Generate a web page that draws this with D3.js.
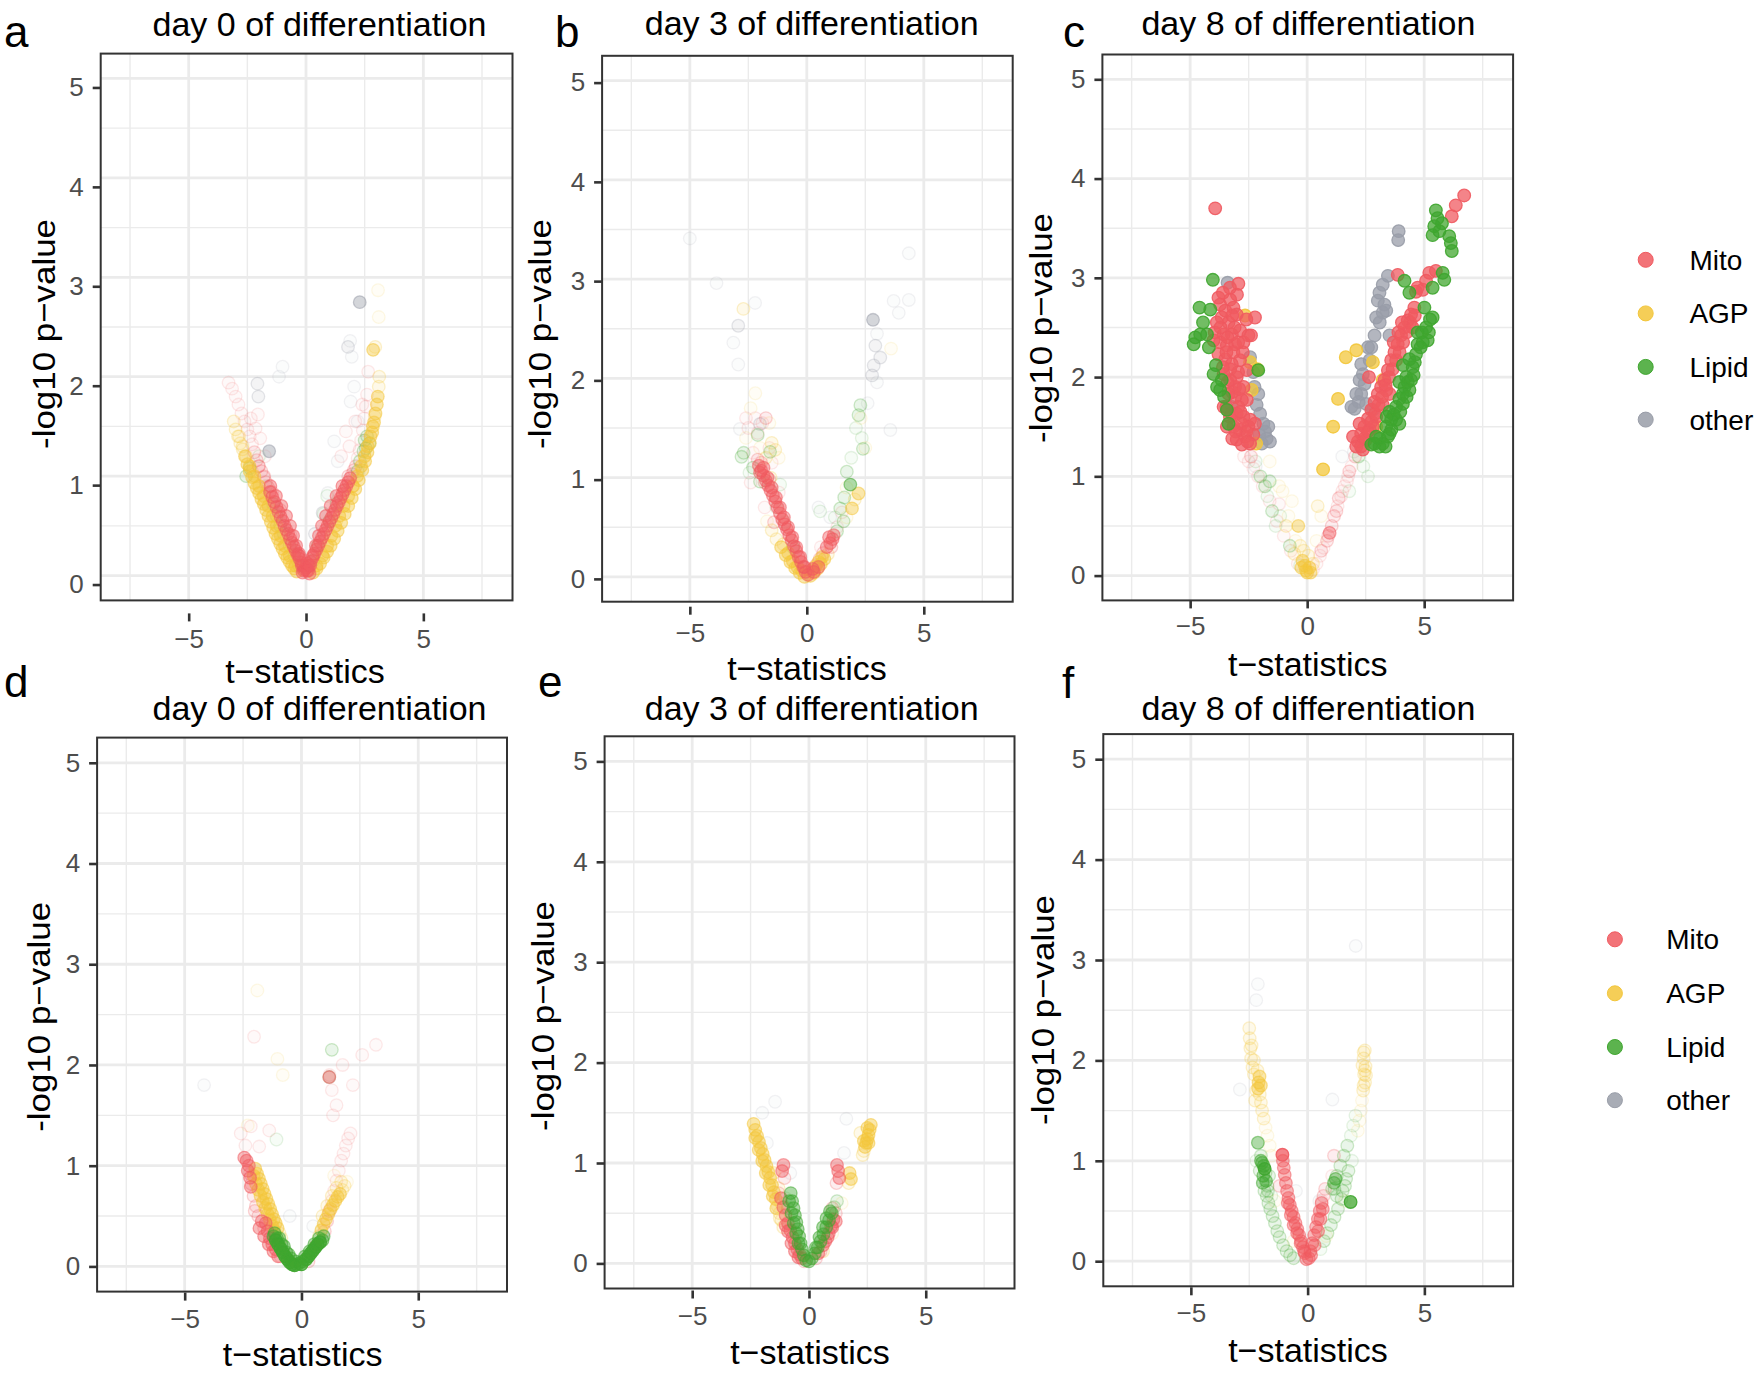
<!DOCTYPE html>
<html><head><meta charset="utf-8">
<script src="https://cdn.jsdelivr.net/npm/d3@7"></script>
<style>body{margin:0;background:#fff} svg{display:block} text{font-family:"Liberation Sans",Arial,Helvetica,sans-serif}</style>
</head><body><svg id="chart" width="1760" height="1375"></svg>
<script>
const categories = ["Mito","AGP","Lipid","other"];
const panelLetters = ["a","b","c","d","e","f"];
const panelTitles = ["day 0 of differentiation","day 3 of differentiation","day 8 of differentiation","day 0 of differentiation","day 3 of differentiation","day 8 of differentiation"];
const xTicks = [-5,0,5];
const yTicks = [0,1,2,3,4,5];
const xMinor = [-7.5,-2.5,2.5,7.5];
const yMinor = [0.5,1.5,2.5,3.5,4.5];
const xDomain = [-8.75,8.8];
const yDomain = [-0.25,5.25];
const xTitle = "t\u2212statistics";
const yTitle = "-log10 p\u2212value";

// points: [t-statistic, -log10 p-value, significance level 0..3]
const a_Mito = [
[-0.05,0.06,2],[-0.12,0.1,2],[-0.2,0.13,2],[-0.28,0.17,2],[-0.36,0.21,2],[-0.44,0.25,2],[-0.52,0.29,2],[-0.6,0.33,2],[-0.68,0.37,2],[-0.76,0.42,2],[-0.84,0.46,2],[-0.92,0.5,2],[-1.0,0.55,2],[-1.08,0.59,2],[-1.17,0.64,2],[-1.26,0.69,2],[-1.35,0.74,2],[-1.44,0.79,2],[-1.53,0.84,2],[-1.62,0.89,1],[-1.71,0.94,1],[-1.8,0.99,1],[-1.9,1.05,1],[-2.0,1.1,1],[-2.1,1.16,1],[-0.3,0.22,2],[-0.65,0.4,1],[-1.1,0.66,1],[-1.45,0.84,1],
[-0.1,0.05,2],[-0.18,0.1,2],[-0.3,0.2,2],[-0.42,0.3,2],[-0.55,0.4,2],[-0.68,0.5,2],[-0.85,0.6,2],[-1.05,0.7,2],[-1.28,0.8,2],[-1.52,0.9,2],[-1.78,1.0,1],[-2.02,1.1,1],
[0.0,0.08,2],[-0.05,0.15,1],[0.05,0.12,2],[-0.15,0.03,2],[0.15,0.02,2],
[-2.2,1.24,1],[-2.3,1.32,0],[-2.4,1.4,0],[-2.5,1.47,0],[-2.62,1.55,0],[-2.75,1.63,0],[-2.88,1.72,0],[-3.0,1.8,0],[-3.15,1.88,0],[-3.3,1.94,0],[-2.35,1.58,0],[-2.15,1.48,0],[-1.95,1.38,0],[-2.05,1.62,0],[-1.75,1.2,0],
[0.05,0.05,2],[0.12,0.1,2],[0.2,0.14,2],[0.28,0.18,2],[0.36,0.22,2],[0.44,0.26,2],[0.52,0.3,2],[0.6,0.34,2],[0.68,0.38,2],[0.76,0.42,2],[0.84,0.46,2],[0.92,0.5,2],[1.0,0.54,2],[1.08,0.58,2],[1.16,0.62,2],[1.24,0.66,2],[1.32,0.7,2],[1.4,0.74,2],[1.48,0.78,2],[1.56,0.82,2],[1.64,0.86,2],[1.72,0.9,2],[1.8,0.94,2],[1.88,0.98,2],[1.96,1.02,1],[2.04,1.06,1],[2.12,1.1,1],
[0.1,0.05,2],[0.18,0.1,2],[0.3,0.2,2],[0.42,0.3,2],[0.55,0.4,2],[0.68,0.5,2],[0.85,0.6,2],[1.05,0.7,2],[1.3,0.8,2],[1.55,0.9,2],[1.8,1.0,1],
[2.2,1.18,0],[2.28,1.26,0],[2.35,1.36,0],[2.42,1.46,0],[2.48,1.58,0],[2.55,1.7,0],[2.6,1.82,0],[2.4,1.72,0],[1.7,1.45,0],[1.85,1.3,0],[2.1,1.55,0],[2.65,2.05,0],[1.5,1.2,0]];
const a_AGP = [
[-0.4,0.04,2],[-0.5,0.07,2],[-0.6,0.1,2],[-0.7,0.14,2],[-0.8,0.18,2],[-0.9,0.22,2],[-1.0,0.27,2],[-1.1,0.32,2],[-1.2,0.37,2],[-1.3,0.42,2],[-1.4,0.48,2],[-1.5,0.54,2],[-1.6,0.6,2],[-1.7,0.66,2],[-1.8,0.72,2],[-1.9,0.77,2],[-2.0,0.83,2],[-2.1,0.88,2],[-2.2,0.93,2],[-2.3,0.99,2],[-2.4,1.05,2],[-2.5,1.12,2],[-2.6,1.2,2],[-2.7,1.27,1],[-2.8,1.33,1],[-2.9,1.4,1],[-3.0,1.47,1],[-3.08,1.55,1],[-1.25,0.45,1],[-1.75,0.74,1],[-2.3,1.05,1],
[-0.45,0.1,2],[-0.7,0.2,2],[-0.9,0.3,2],[-1.08,0.4,2],[-1.25,0.5,2],[-1.42,0.6,2],[-1.6,0.7,2],[-1.8,0.8,2],[-2.0,0.9,2],[-2.2,1.0,2],[-2.4,1.1,2],[-2.55,1.2,1],[-2.7,1.3,1],[-2.85,1.4,1],
[0.3,0.03,2],[0.45,0.07,2],[0.6,0.12,2],[0.75,0.18,2],[0.9,0.24,2],[1.05,0.3,2],[1.2,0.37,2],[1.35,0.45,2],[1.5,0.53,2],[1.65,0.62,2],[1.8,0.7,2],[1.95,0.78,2],[2.1,0.87,2],[2.25,0.96,2],[2.4,1.06,2],[2.52,1.15,2],[2.62,1.24,2],[2.72,1.33,2],[2.82,1.44,2],[2.9,1.54,2],[2.96,1.63,2],[3.02,1.72,2],[3.06,1.8,2],[3.1,1.9,1],[3.12,2.0,1],[2.86,2.27,2],[2.95,2.3,1],[3.07,2.87,0],[3.1,2.6,0],[1.3,0.55,1],[2.0,0.9,1],
[0.45,0.1,2],[0.7,0.2,2],[0.9,0.3,2],[1.08,0.4,2],[1.25,0.5,2],[1.42,0.6,2],[1.6,0.7,2],[1.8,0.8,2],[2.0,0.9,2],[2.18,1.0,2],[2.35,1.1,2],[2.5,1.2,2],[2.62,1.3,2],[2.75,1.4,2],[2.85,1.5,2],[2.93,1.6,1]];
const a_Lipid = [
[-2.55,1.0,1],[-2.4,1.08,1],[-1.4,0.72,1],[-1.25,0.6,1],[-1.1,0.5,1],[-0.95,0.42,1],[-0.7,0.3,1],[-0.5,0.2,1],[-0.3,0.1,1],[2.7,1.33,1],[2.6,1.4,1],[2.5,1.36,1],[2.45,1.25,1],[2.3,1.15,1],[2.55,1.28,1],[2.2,1.05,1],[0.9,0.8,0],[0.75,0.62,0],[1.0,0.55,1],[1.3,0.72,1],[1.6,0.85,0],[0.5,0.3,1],[0.3,0.15,1],[-1.7,0.9,0],[-2.0,1.2,0]];
const a_other = [
[2.29,2.75,2],[1.79,2.3,1],[1.95,2.2,0],[1.88,2.36,0],[-2.07,1.93,1],[-2.03,1.8,1],[-1.57,1.25,2],[-1.15,2.0,0],[0.71,0.63,1],[0.38,0.42,1],[0.93,0.83,0],[1.2,1.35,0],[1.9,1.75,0],[2.2,1.55,0],[1.35,1.15,0],[2.05,1.9,0],[-1.0,2.1,0]];

const b_Mito = [
[0.05,0.02,2],[-0.05,0.05,2],[-0.15,0.1,2],[-0.25,0.15,2],[-0.35,0.2,2],[-0.45,0.26,2],[-0.55,0.31,2],[-0.65,0.37,2],[-0.75,0.42,2],[-0.85,0.48,2],[-0.95,0.53,2],[-1.05,0.58,2],[-1.15,0.64,2],[-1.25,0.7,2],[-1.35,0.76,2],[-1.45,0.82,2],[-1.55,0.87,2],[-1.65,0.92,2],[-1.75,0.97,2],[-1.85,1.02,2],[-1.95,1.07,2],[-2.05,1.12,2],[-2.0,1.05,2],[-1.8,0.95,1],[-1.6,0.98,1],
[-0.1,0.1,2],[-0.28,0.2,2],[-0.45,0.3,2],[-0.62,0.4,2],[-0.8,0.5,2],[-0.98,0.6,2],[-1.15,0.7,2],[-1.32,0.8,2],[-1.5,0.9,2],[-1.68,1.0,2],[-1.85,1.1,2],[-2.1,1.18,1],[-1.95,1.15,1],
[-2.4,0.95,0],[-2.3,1.25,0],[-2.1,1.45,0],[-1.9,1.55,0],[-1.6,1.3,0],[-1.8,0.7,0],[-1.4,0.55,1],[-2.6,1.6,0],[-2.2,1.6,0],[-1.75,1.6,1],[-2.5,1.5,0],[-1.5,1.15,0],[-1.2,0.85,0],
[0.25,0.08,2],[0.4,0.12,1],[0.55,0.18,1],[0.7,0.24,1],[0.85,0.3,2],[1.0,0.34,2],[1.1,0.38,2],[1.15,0.42,2],[0.6,0.3,0],[1.3,0.5,0],[1.5,0.65,0],[0.3,0.05,2],[0.5,0.1,2],[0.95,0.4,2],[1.05,0.3,1]];
const b_AGP = [
[-0.1,0.0,2],[-0.3,0.04,2],[-0.5,0.09,2],[-0.7,0.15,2],[-0.9,0.22,2],[-1.1,0.3,2],[-1.3,0.38,1],[-1.5,0.47,1],[-1.7,0.56,0],[0.15,0.01,2],[0.3,0.04,2],[0.45,0.08,2],[0.6,0.13,2],[0.75,0.18,2],[0.9,0.23,1],
[-0.2,0.06,2],[-0.4,0.1,2],[-0.6,0.16,2],[-0.8,0.24,2],[-1.0,0.33,1],[0.2,0.06,2],[0.35,0.1,2],[0.5,0.15,2],[0.65,0.2,2],
[2.21,0.84,2],[1.93,0.69,2],[2.05,0.78,1],[1.7,0.6,0],
[-2.71,2.7,1],[-2.2,1.85,0],[-2.6,1.4,0],[-2.0,1.3,0],[-1.75,1.2,1],[-1.55,1.0,1],[-1.6,1.55,0],[1.7,0.9,0],[2.5,1.3,0],[3.6,2.3,0],[2.3,1.6,0],[-2.4,1.7,0],[-1.5,1.35,1],[-1.35,1.28,1],[-1.2,1.2,0]];
const b_Lipid = [
[-2.79,1.21,1],[-2.7,1.25,1],[-2.0,0.96,1],[-1.57,1.26,1],[-2.1,1.43,1],[-1.14,0.93,0],[-2.3,1.1,1],[-2.45,1.05,0],[2.29,1.73,1],[2.21,1.63,1],[2.4,1.29,1],[2.35,1.4,0],[1.71,1.06,1],[1.86,0.93,2],[1.43,0.69,1],[1.57,0.56,1],[1.29,0.46,1],[0.57,0.66,0],[2.1,1.5,0],[1.9,1.2,0],[1.6,0.8,1],[1.2,0.6,0],[-1.3,0.7,0],[-0.95,0.55,0],[-0.6,0.3,1]];
const b_other = [
[2.83,2.59,2],[2.93,2.33,1],[3.14,2.21,1],[2.86,2.13,1],[2.79,2.03,1],[3.0,1.96,0],[3.71,2.78,0],[4.36,2.79,0],[4.36,3.26,0],[3.93,2.66,0],[3.57,1.48,0],[-3.86,2.96,0],[-5.0,3.41,0],[-2.21,2.76,0],[-2.93,2.53,1],[-3.14,2.36,0],[-2.93,2.14,0],[-2.0,1.54,1],[-2.86,1.49,0],[2.6,1.75,0],[1.0,0.6,0],[0.5,0.7,0],[3.0,2.45,0]];

const c_Mito = [
[-3.93,3.7,3],
[-2.94,2.94,3],[-3.79,2.8,3],[-3.29,2.78,3],[-3.15,2.7,3],[-2.23,2.6,3],[-3.86,2.55,3],[-3.36,2.55,3],[-3.01,2.63,3],[-4.0,2.37,3],[-3.72,2.35,3],[-3.43,2.32,3],[-3.08,2.33,3],[-2.72,2.35,3],[-2.51,2.42,3],[-3.79,2.23,3],[-3.5,2.18,3],[-3.22,2.13,3],[-2.87,2.17,3],[-2.58,2.07,3],[-3.57,2.03,3],[-3.29,1.97,3],[-3.01,2.0,3],[-2.72,1.9,3],[-3.36,1.83,3],[-3.08,1.8,3],[-2.79,1.77,3],[-3.57,1.7,3],[-3.01,1.63,3],[-2.72,1.6,3],[-2.44,1.57,3],[-3.15,1.5,3],[-2.87,1.47,3],[-2.51,1.5,3],[-2.23,1.53,3],[-3.01,1.37,3],[-2.65,1.4,3],[-2.3,1.42,3],[-2.79,1.32,3],[-2.44,1.33,3],
[-3.57,2.43,3],[-3.22,2.43,3],[-2.87,2.47,3],[-3.5,2.67,3],[-3.72,2.73,3],[-3.0,2.83,3],[-3.29,2.08,3],[-3.08,1.9,3],[-2.58,1.77,3],[-3.22,1.63,3],[-2.79,1.53,3],[-2.94,1.7,3],[-3.43,1.5,3],
[-3.65,2.6,3],[-3.4,2.4,3],[-3.1,2.5,3],[-2.75,2.25,3],[-3.6,2.1,3],[-3.45,2.25,3],[-3.15,2.25,3],[-2.95,2.05,3],[-3.4,1.95,3],[-3.2,1.85,3],[-2.9,1.88,3],[-3.45,1.7,3],[-3.3,1.6,3],[-2.85,1.65,3],[-2.6,1.45,3],[-3.05,1.45,3],[-3.2,1.38,3],[-2.55,1.35,3],[-3.95,2.45,3],[-3.7,2.5,3],[-2.4,2.42,3],[-2.6,2.58,3],[-3.3,2.9,3],[-3.6,2.85,3],[-2.95,2.35,3],[-3.2,2.62,3],
[2.17,1.35,3],[2.31,1.43,3],[2.45,1.5,3],[2.6,1.58,3],[2.74,1.67,3],[2.88,1.75,3],[3.02,1.83,3],[3.16,1.9,3],[3.3,1.97,3],[3.45,2.07,3],[3.59,2.17,3],[3.73,2.25,3],[3.87,2.33,3],[4.01,2.42,3],[4.16,2.5,3],[4.3,2.57,3],[4.44,2.63,3],[4.58,2.7,3],[2.52,1.37,3],[2.67,1.47,3],[2.95,1.6,3],[3.23,1.72,3],[3.52,1.83,3],[2.24,1.53,3],[2.38,1.27,3],[1.96,1.4,3],[2.1,1.3,3],[2.64,2.0,3],[2.81,1.5,3],[3.38,1.87,3],
[2.3,1.3,3],[2.45,1.38,3],[2.6,1.45,3],[2.75,1.55,3],[2.9,1.63,3],[3.05,1.72,3],[3.2,1.8,3],[3.35,1.92,3],[3.5,2.0,3],[3.65,2.08,3],[3.8,2.17,3],[3.95,2.25,3],[4.1,2.35,3],[4.25,2.45,3],[4.4,2.55,3],[3.7,2.35,3],[3.9,2.45,3],[4.05,2.55,3],[4.5,2.5,3],[4.6,2.62,3],
[6.71,3.83,3],[6.35,3.73,3],[6.18,3.62,3],
[3.87,3.03,3],[4.72,2.9,3],[4.94,2.88,3],[5.22,3.05,3],[5.5,3.07,3],[5.08,2.97,3],[4.65,2.86,3],
[2.05,1.2,1],[1.9,1.1,0],[1.75,1.0,0],[1.6,0.9,0],[1.45,0.8,0],[1.3,0.7,0],[1.15,0.6,1],[0.96,0.43,2],[0.85,0.35,1],[0.7,0.28,0],[0.55,0.2,0],[0.4,0.12,0],[0.25,0.06,0],[1.05,0.5,1],[1.25,0.65,1],[1.5,0.85,0],[1.7,0.95,0],[0.9,0.4,1],[1.35,0.78,1],[1.8,1.05,1],[0.6,0.25,1],
[-2.7,1.2,0],[-2.5,1.15,0],[-2.3,1.08,0],[-2.1,1.0,0],[-1.9,0.9,0],[-1.3,0.55,0],[-1.0,0.4,0],[-0.7,0.25,0],[-0.4,0.12,0],[-1.6,0.75,0],[-2.4,1.2,1],[-1.2,0.72,0]];
const c_AGP = [
[-2.18,1.33,3],[-2.65,2.62,3],[-2.13,2.08,3],[-2.37,1.87,3],[-2.44,2.15,3],[1.65,2.2,3],[2.1,2.27,3],[1.32,1.78,3],[1.11,1.5,3],[0.68,1.07,3],[3.23,1.97,3],[2.81,2.15,3],[2.95,1.5,3],
[-0.38,0.5,2],[-0.1,0.1,2],[-0.05,0.05,2],[0.0,0.03,2],[-0.2,0.15,2],[0.1,0.08,2],[-0.15,0.25,1],[0.05,0.2,1],[-0.3,0.3,1],[0.25,0.12,1],[-0.5,0.35,0],[-0.8,0.6,0],[-1.2,0.9,0],[-0.65,0.75,0],[0.4,0.35,0],[0.6,0.6,0],[-1.6,1.15,0],[-0.25,0.08,2],[0.15,0.03,2],[-0.9,0.5,1],[-0.55,0.22,1],[0.45,0.7,1],[-1.05,0.85,0]];
const c_Lipid = [
[-4.03,2.98,3],[-4.6,2.7,3],[-4.14,2.68,3],[-4.85,2.33,3],[-4.57,2.43,3],[-4.28,2.43,3],[-4.0,2.03,3],[-3.72,1.87,3],[-3.65,1.97,3],[-3.36,1.53,3],[-2.09,2.07,3],[-3.43,1.67,3],[-4.78,2.4,3],
[-4.45,2.55,3],[-4.2,2.3,3],[-3.9,2.12,3],[-3.85,1.9,3],[-3.55,1.8,3],
[5.5,3.68,3],[5.57,3.6,3],[5.43,3.52,3],[5.65,3.47,3],[5.36,3.43,3],[6.07,3.42,3],[6.14,3.35,3],[6.18,3.27,3],[5.76,3.55,3],
[4.16,2.97,3],[4.37,2.85,3],[5.79,3.05,3],[5.86,2.98,3],[5.36,2.9,3],[5.01,2.7,3],
[2.88,1.33,3],[3.23,1.33,3],[3.45,1.4,3],[3.38,1.5,3],[3.59,1.57,3],[3.52,1.65,3],[3.8,1.7,3],[3.94,1.78,3],[4.09,1.83,3],[4.16,1.9,3],[3.94,1.95,3],[4.23,2.0,3],[4.44,1.97,3],[4.09,2.12,3],[4.51,2.1,3],[4.37,2.18,3],[4.72,2.33,3],[4.94,2.35,3],[5.15,2.37,3],[4.72,2.45,3],[5.36,2.6,3],[5.08,2.5,3],[3.8,1.57,3],[3.52,1.43,3],[2.74,1.32,3],[4.09,1.73,3],[4.37,1.87,3],[3.94,1.53,3],[4.65,2.23,3],[3.09,1.3,3],
[3.1,1.38,3],[3.35,1.3,3],[3.6,1.47,3],[3.7,1.62,3],[3.98,1.65,3],[4.25,1.8,3],[4.3,1.95,3],[4.55,2.02,3],[4.6,2.15,3],[4.85,2.3,3],[4.9,2.45,3],[5.2,2.45,3],[5.25,2.58,3],[3.4,1.6,3],[2.95,1.4,3],
[-2.0,1.0,1],[-1.8,0.9,1],[-1.5,0.65,1],[-1.7,0.8,0],[-1.35,0.5,0],[-0.74,0.3,1],[-0.3,0.1,0],[2.4,1.1,0],[2.6,1.0,0],[1.8,0.85,0],[-2.2,1.15,0],[2.2,1.2,1],[-1.6,0.95,1],[-1.15,0.6,0]];
const c_other = [
[-3.4,2.95,3],[-1.73,1.38,3],[-1.66,1.5,3],[-2.01,1.63,3],[-2.09,1.83,3],[-2.44,2.2,3],[-3.22,1.7,3],[-1.94,1.33,3],[-1.59,1.35,3],[-1.87,1.53,3],[-2.16,1.72,3],
[-1.8,1.45,3],[-2.05,1.42,3],[-2.25,1.9,3],[-2.3,2.05,3],
[3.91,3.47,3],[3.89,3.38,3],[3.45,3.02,3],[3.23,2.93,3],[3.09,2.85,3],[3.02,2.77,3],[3.3,2.73,3],[3.23,2.65,3],[3.38,2.67,3],[2.88,2.42,3],[3.52,2.42,3],[2.74,2.3,3],[2.38,2.03,3],[2.31,2.13,3],[2.67,2.17,3],[2.24,1.97,3],[2.03,1.68,3],[2.31,1.83,3],[2.52,1.73,3],[2.81,1.67,3],[2.1,1.83,3],[1.89,1.7,3],
[2.95,2.6,3],[3.1,2.55,3],[2.6,2.3,3],[2.45,1.93,3],[2.2,1.75,3],
[-2.2,1.1,0],[1.5,1.2,0],[2.0,1.25,0]];

const d_Mito = [
[-2.45,1.08,2],[-2.35,1.05,2],[-2.25,1.0,2],[-2.2,0.92,1],[-2.15,0.82,1],[-2.17,0.79,2],[-2.05,0.7,1],[-1.95,0.6,1],[-1.85,0.5,1],[-1.7,0.45,2],[-1.53,0.43,2],[-1.45,0.35,2],[-1.35,0.28,2],[-1.25,0.22,2],[-1.1,0.17,2],[-1.6,0.38,1],[-0.9,0.1,1],
[-2.3,0.95,2],[-2.2,0.88,2],[-2.0,0.55,1],[-1.8,0.38,2],[-1.6,0.3,2],[-1.4,0.22,2],[-1.2,0.15,2],[-1.0,0.1,2],
[1.0,0.35,1],[1.1,0.45,1],[1.2,0.55,1],[1.3,0.65,0],[1.4,0.75,0],[1.5,0.85,0],[1.6,0.95,0],[1.7,1.05,0],[1.8,1.12,0],[1.9,1.2,0],[2.0,1.27,0],[2.1,1.32,0],[1.2,1.9,0],[1.3,1.75,0],[1.5,1.6,0],[1.35,1.5,0],[3.19,2.2,0],[2.6,2.1,0],[1.76,2.0,0],[2.2,1.8,0],[1.19,1.88,2],[0.6,0.2,1],[0.3,0.05,1],
[-2.6,1.32,0],[-2.17,1.39,0],[-1.81,1.19,0],[-1.38,1.35,0],[-2.03,2.28,0],[-2.4,1.2,0]];
const d_AGP = [
[-1.98,0.97,2],[-1.9,0.92,2],[-1.82,0.87,2],[-1.74,0.82,2],[-1.66,0.77,2],[-1.58,0.72,2],[-1.5,0.67,2],[-1.42,0.62,2],[-1.34,0.57,2],[-1.26,0.52,2],[-1.18,0.47,2],[-1.1,0.43,2],[-1.02,0.38,2],[-0.94,0.33,1],[-0.86,0.28,1],
[-2.05,0.9,2],[-1.95,0.82,2],[-1.85,0.76,2],[-1.75,0.7,2],[-1.65,0.64,2],[-1.55,0.58,2],[-1.45,0.52,2],[-1.35,0.46,2],[-1.25,0.4,2],[-1.15,0.35,2],
[0.75,0.3,1],[0.85,0.36,2],[0.95,0.42,2],[1.05,0.47,2],[1.15,0.52,2],[1.25,0.57,2],[1.35,0.61,2],[1.45,0.65,2],[1.55,0.69,2],[1.65,0.72,2],[1.75,0.76,1],[1.85,0.8,1],[1.95,0.84,0],
[0.9,0.5,1],[1.1,0.6,1],[1.3,0.7,1],[1.5,0.78,1],[1.7,0.84,1],
[-1.89,2.74,0],[-1.03,2.06,0],[-0.8,1.9,0],[-2.3,1.4,0],[1.4,0.9,0]];
const d_Lipid = [
[-1.2,0.3,2],[-1.1,0.26,3],[-1.0,0.22,3],[-0.9,0.18,3],[-0.8,0.14,3],[-0.7,0.1,3],[-0.6,0.07,3],[-0.5,0.04,3],[-0.4,0.02,3],[-0.3,0.01,3],[-0.2,0.02,2],[-0.1,0.03,2],[0.05,0.05,2],[0.2,0.07,3],[0.3,0.1,3],[0.4,0.13,3],[0.5,0.16,3],[0.6,0.19,3],[0.7,0.22,3],[0.8,0.24,3],[0.9,0.26,2],[-0.95,0.28,2],[-0.75,0.2,2],[-0.55,0.12,2],
[-1.15,0.33,2],[-1.05,0.28,2],[-0.85,0.22,2],[-0.65,0.14,2],[-0.45,0.08,2],[-0.25,0.05,2],[0.0,0.02,3],[0.15,0.1,2],[0.35,0.15,2],[0.55,0.22,2],[0.75,0.28,2],[0.95,0.3,2],
[1.3,2.15,1],[1.19,1.88,1],[-1.07,1.26,0]];
const d_other = [[-4.17,1.8,0],[0.5,0.4,0],[-0.5,0.5,0]];

const e_Mito = [
[-1.09,0.98,2],[-1.15,0.92,2],[-1.05,0.85,1],[-1.3,0.7,1],[-1.2,0.65,2],[-1.1,0.56,2],[-1.0,0.48,2],[-0.9,0.4,2],[-0.8,0.33,2],[-0.7,0.26,2],[-0.6,0.2,2],[-0.5,0.14,2],[-0.4,0.09,2],[-0.3,0.05,2],[-0.2,0.02,1],
[-1.0,0.38,2],[-0.9,0.32,2],[-0.75,0.2,2],[-0.6,0.12,2],[-0.45,0.06,2],
[1.2,0.98,2],[1.25,0.92,2],[1.3,0.85,2],[1.18,0.8,1],[0.3,0.05,1],[0.5,0.12,1],[0.7,0.22,2],[0.85,0.3,2],[0.95,0.37,2],[1.05,0.44,2],[1.15,0.5,1],[1.0,0.55,1],
[0.4,0.1,2],[0.6,0.18,2],[0.8,0.26,2],[1.0,0.36,2],[1.15,0.42,2]];
const e_AGP = [
[-2.37,1.39,2],[-2.3,1.33,2],[-2.22,1.27,2],[-2.14,1.21,2],[-2.06,1.15,2],[-1.98,1.09,2],[-1.9,1.03,2],[-1.82,0.97,2],[-1.74,0.91,2],[-1.66,0.85,2],[-1.58,0.78,2],[-1.5,0.71,2],[-1.42,0.64,2],[-1.34,0.57,1],[-1.26,0.5,1],[-1.18,0.43,1],[-1.1,0.36,1],[-1.5,0.9,1],[-1.3,0.75,1],[-1.2,0.6,1],
[-2.3,1.25,2],[-2.15,1.13,2],[-2.0,1.02,2],[-1.85,0.9,2],[-1.7,0.78,2],[-1.55,0.67,2],[-1.4,0.55,2],[-1.25,0.45,1],
[2.65,1.38,2],[2.6,1.33,2],[2.55,1.28,2],[2.5,1.24,2],[2.45,1.2,2],[2.4,1.16,2],[2.35,1.12,1],[2.3,1.08,1],[1.74,0.9,2],[1.8,0.84,2],[1.7,0.8,1],[2.2,1.3,1],
[2.5,1.35,2],[2.55,1.2,2],[2.35,1.22,2],
[1.4,0.6,0],[1.0,0.3,0],[0.6,0.12,1]];
const e_Lipid = [
[-0.78,0.7,2],[-0.72,0.62,2],[-0.66,0.55,2],[-0.6,0.48,2],[-0.54,0.41,2],[-0.48,0.34,2],[-0.42,0.27,2],[-0.36,0.2,2],[-0.3,0.14,2],[-0.22,0.08,2],[-0.12,0.03,2],[0.0,0.02,2],[0.12,0.05,2],[0.25,0.1,2],[0.38,0.16,2],[0.5,0.22,2],[0.62,0.29,2],[0.74,0.36,2],[0.86,0.43,2],[0.98,0.5,2],[1.08,0.56,1],[1.2,0.62,1],[-0.9,0.55,1],[-1.0,0.65,0],
[-0.85,0.62,2],[-0.75,0.5,2],[-0.65,0.4,2],[-0.55,0.3,2],[-0.45,0.2,2],[0.3,0.16,2],[0.45,0.26,2],[0.6,0.36,2],[0.75,0.45,2],[0.9,0.52,2]];
const e_other = [[-1.45,1.61,0],[1.6,1.44,0],[-1.8,1.2,0],[-0.8,0.9,0],[1.5,1.1,0],[-2.0,1.5,0]];

const f_Mito = [
[-0.05,0.02,2],[-0.12,0.08,2],[-0.2,0.14,2],[-0.28,0.2,2],[-0.36,0.26,2],[-0.44,0.32,2],[-0.52,0.38,2],[-0.6,0.44,2],[-0.68,0.5,2],[-0.76,0.56,2],[-0.82,0.63,2],[-0.88,0.7,2],[-0.93,0.78,2],[-0.98,0.86,2],[-1.02,0.93,2],[-1.06,1.0,2],[-1.08,1.06,3],[-1.2,0.75,1],
[-0.15,0.1,2],[-0.3,0.18,2],[-0.45,0.28,2],[-0.6,0.36,2],[-0.72,0.46,2],[-0.85,0.58,2],
[0.05,0.03,2],[0.12,0.1,2],[0.2,0.18,2],[0.28,0.26,2],[0.36,0.34,2],[0.44,0.42,2],[0.52,0.5,2],[0.6,0.58,2],[0.68,0.65,1],[0.75,0.72,1],[1.13,1.05,1],[1.05,0.85,0],[0.6,0.6,0],
[0.15,0.06,2],[0.3,0.16,2],[0.45,0.3,2],[0.55,0.42,2],[0.65,0.52,2]];
const f_AGP = [
[-2.5,2.32,1],[-2.48,2.22,1],[-2.45,2.12,1],[-2.42,2.02,1],[-2.36,1.93,1],[-2.3,1.86,1],[-2.06,1.84,2],[-2.1,1.78,2],[-2.2,1.7,1],[-2.05,1.66,1],[-2.0,1.58,1],[-1.95,1.5,1],[-1.88,1.42,1],[-1.8,1.33,0],[-1.72,1.25,0],[-1.62,1.15,0],[-1.55,1.05,0],[-2.25,1.6,1],
[-2.4,2.15,1],[-2.3,2.0,1],[-2.15,1.9,1],[-2.12,1.72,2],[-2.0,1.75,2],
[2.45,2.1,1],[2.4,2.02,1],[2.48,1.94,1],[2.42,1.86,1],[2.46,1.78,1],[2.38,1.7,1],[2.33,1.6,0],[2.28,1.5,0],[2.22,1.4,0],[2.15,1.3,0],[2.5,1.85,1],[2.35,1.95,1],
[2.4,2.08,1],[2.45,1.9,1],[2.4,1.75,1],
[-1.4,0.6,0],[1.6,0.6,0],[-0.6,0.2,0],[0.8,0.25,0]];
const f_Lipid = [
[-2.13,1.18,2],[-2.0,1.05,1],[-1.84,0.92,3],[-1.9,0.85,2],[-1.95,0.98,2],[-1.78,0.8,2],[-1.72,0.75,1],[-1.75,0.65,1],[-1.68,0.58,1],[-1.6,0.52,1],[-1.5,0.45,1],[-1.4,0.38,1],[-1.3,0.3,1],[-1.2,0.24,1],[-1.05,0.16,1],[-0.9,0.1,1],[-0.75,0.06,1],[-0.6,0.03,1],[-2.05,0.9,1],[-1.65,0.85,1],[-2.2,1.0,0],[-1.55,0.65,0],[-1.85,0.7,1],
[-2.0,1.0,2],[-1.88,0.95,2],[-1.92,0.78,2],[-1.8,0.88,1],[-1.7,0.7,1],
[1.13,0.78,2],[1.05,0.72,1],[1.25,0.85,1],[1.4,0.95,1],[1.55,1.05,1],[1.7,1.15,1],[1.85,1.25,0],[1.95,1.35,0],[2.05,1.45,0],[1.84,0.59,3],[1.6,0.75,1],[1.45,0.62,1],[1.3,0.52,1],[1.15,0.44,1],[1.0,0.36,1],[0.85,0.28,1],[0.7,0.2,1],[0.55,0.12,0],[1.75,0.9,1],[1.9,1.0,0],[1.25,0.65,1],
[1.2,0.82,2],[1.15,0.72,1],[1.5,0.7,1],[1.65,0.82,1]];
const f_other = [[2.06,3.14,0],[-2.13,2.76,0],[-2.2,2.6,0],[-2.9,1.71,0],[1.06,1.61,0],[-0.5,0.7,0],[0.5,0.6,0]];

const panelData = [
  {Mito:a_Mito, AGP:a_AGP, Lipid:a_Lipid, other:a_other},
  {Mito:b_Mito, AGP:b_AGP, Lipid:b_Lipid, other:b_other},
  {Mito:c_Mito, AGP:c_AGP, Lipid:c_Lipid, other:c_other},
  {Mito:d_Mito, AGP:d_AGP, Lipid:d_Lipid, other:d_other},
  {Mito:e_Mito, AGP:e_AGP, Lipid:e_Lipid, other:e_other},
  {Mito:f_Mito, AGP:f_AGP, Lipid:f_Lipid, other:f_other}
];

// ---- layout / style ----
const layout = [
  {box:[100.7,53.6,512.5,600.4], yShift:9, xGap:13, title:[319.5,36], xt:[305,683], yt:[45.5,334], letter:[4,47]},
  {box:[602.1,55.8,1012.7,601.7], yShift:2, xGap:5, title:[811.7,35], xt:[807,679.5], yt:[541.6,334], letter:[555,47]},
  {box:[1102.4,54.5,1513.1,600.4], yShift:0, xGap:0, title:[1308.4,35], xt:[1307.8,676], yt:[1042.7,328], letter:[1063,47]},
  {box:[97.1,737.6,507,1291.6], yShift:0, xGap:1, title:[319.5,720], xt:[302.7,1366], yt:[41,1016.8], letter:[4,697]},
  {box:[604.6,736.3,1014.5,1288.5], yShift:0, xGap:2, title:[811.7,720], xt:[810,1364], yt:[545,1016], letter:[538,697]},
  {box:[1103.3,734.1,1513.1,1286.3], yShift:0, xGap:1, title:[1308.4,720], xt:[1308,1362], yt:[1044.5,1010], letter:[1062,698]}
];
const legends = [
  {dotX:1645.7, labX:1689.4, ys:[259.8,313.4,366.9,419.6]},
  {dotX:1614.9, labX:1666.2, ys:[939.3,993.3,1047,1100.2]}
];
const colors = {Mito:"#F05A60", AGP:"#F3C63A", Lipid:"#3FA62F", other:"#999DA8"};
const levelFill = [0.035, 0.11, 0.42, 0.74];
const levelStroke = [0.13, 0.25, 0.52, 0.9];
const drawOrder = ["other","AGP","Mito","Lipid"];
const gridCol = "#EBEBEB";

const svg = d3.select("#chart");
svg.append("rect").attr("width",1760).attr("height",1375).attr("fill","#fff");
const defs = svg.append("defs");
defs.append("filter").attr("id","soft").attr("x","-5%").attr("y","-5%").attr("width","110%").attr("height","110%")
  .append("feGaussianBlur").attr("stdDeviation",0.6);

layout.forEach((L,i) => {
  const [x0,y0,x1,y1] = L.box;
  const x = d3.scaleLinear().domain(xDomain).range([x0,x1]);
  const y = d3.scaleLinear().domain(yDomain).range([y1,y0]);
  const g = svg.append("g");
  const cid = "clip"+i;
  defs.append("clipPath").attr("id",cid).append("rect").attr("x",x0).attr("y",y0).attr("width",x1-x0).attr("height",y1-y0);
  const grid = g.append("g").attr("clip-path",`url(#${cid})`);
  grid.selectAll(".vm").data(xMinor).join("line").attr("x1",d=>x(d)).attr("x2",d=>x(d)).attr("y1",y0).attr("y2",y1).attr("stroke",gridCol).attr("stroke-width",1.4);
  grid.selectAll(".hm").data(yMinor).join("line").attr("y1",d=>y(d)).attr("y2",d=>y(d)).attr("x1",x0).attr("x2",x1).attr("stroke",gridCol).attr("stroke-width",1.4);
  grid.selectAll(".vM").data(xTicks).join("line").attr("x1",d=>x(d)).attr("x2",d=>x(d)).attr("y1",y0).attr("y2",y1).attr("stroke",gridCol).attr("stroke-width",2.8);
  grid.selectAll(".hM").data(yTicks).join("line").attr("y1",d=>y(d)).attr("y2",d=>y(d)).attr("x1",x0).attr("x2",x1).attr("stroke",gridCol).attr("stroke-width",2.8);

  const pts = [];
  drawOrder.forEach((cat,ci) => panelData[i][cat].forEach(p => pts.push({t:p[0], v:p[1], lv:p[2], cat, ci})));
  pts.sort((a,b) => (a.lv - b.lv) || (a.ci - b.ci));
  grid.append("g").attr("filter","url(#soft)").selectAll("circle").data(pts).join("circle")
    .attr("cx",d=>x(d.t)).attr("cy",d=>y(d.v)).attr("r",6.3)
    .attr("fill",d=>colors[d.cat]).attr("fill-opacity",d=>levelFill[d.lv])
    .attr("stroke",d=>colors[d.cat]).attr("stroke-opacity",d=>levelStroke[d.lv]).attr("stroke-width",1.3);

  g.append("rect").attr("x",x0).attr("y",y0).attr("width",x1-x0).attr("height",y1-y0)
    .attr("fill","none").attr("stroke","#333").attr("stroke-width",2);

  const fmt = d3.format("d");
  const xa = g.append("g").attr("transform",`translate(0,${y1+L.xGap})`)
    .call(d3.axisBottom(x).tickValues(xTicks).tickFormat(fmt).tickSize(8).tickPadding(8.5));
  const ya = g.append("g").attr("transform",`translate(${x0},${L.yShift})`)
    .call(d3.axisLeft(y).tickValues(yTicks).tickFormat(fmt).tickSize(8).tickPadding(9));
  [xa,ya].forEach(a => {
    a.select(".domain").remove();
    a.selectAll(".tick line").attr("stroke","#333").attr("stroke-width",2.6);
    a.selectAll(".tick text").attr("fill","#4D4D4D").style("font-size","26px");
  });

  g.append("text").attr("x",L.title[0]).attr("y",L.title[1]).attr("text-anchor","middle")
    .style("font-size","34px").attr("fill","#000").text(panelTitles[i]);
  g.append("text").attr("x",L.xt[0]).attr("y",L.xt[1]).attr("text-anchor","middle")
    .style("font-size","34px").attr("fill","#000").text(xTitle);
  g.append("text").attr("transform",`translate(${L.yt[0]+9},${L.yt[1]}) rotate(-90)`).attr("text-anchor","middle")
    .style("font-size","32px").attr("fill","#000").attr("textLength",230).attr("lengthAdjust","spacingAndGlyphs").text(yTitle);
  g.append("text").attr("x",L.letter[0]).attr("y",L.letter[1])
    .style("font-size","44px").attr("fill","#000").text(panelLetters[i]);
});

legends.forEach(Lg => {
  const lg = svg.append("g");
  categories.forEach((c,k) => {
    lg.append("circle").attr("cx",Lg.dotX).attr("cy",Lg.ys[k]).attr("r",7.5)
      .attr("fill",colors[c]).attr("fill-opacity",0.85).attr("stroke",colors[c]).attr("stroke-width",1);
    lg.append("text").attr("x",Lg.labX).attr("y",Lg.ys[k]).attr("dy","0.36em")
      .style("font-size","28px").attr("fill","#000").text(c);
  });
});
</script></body></html>
